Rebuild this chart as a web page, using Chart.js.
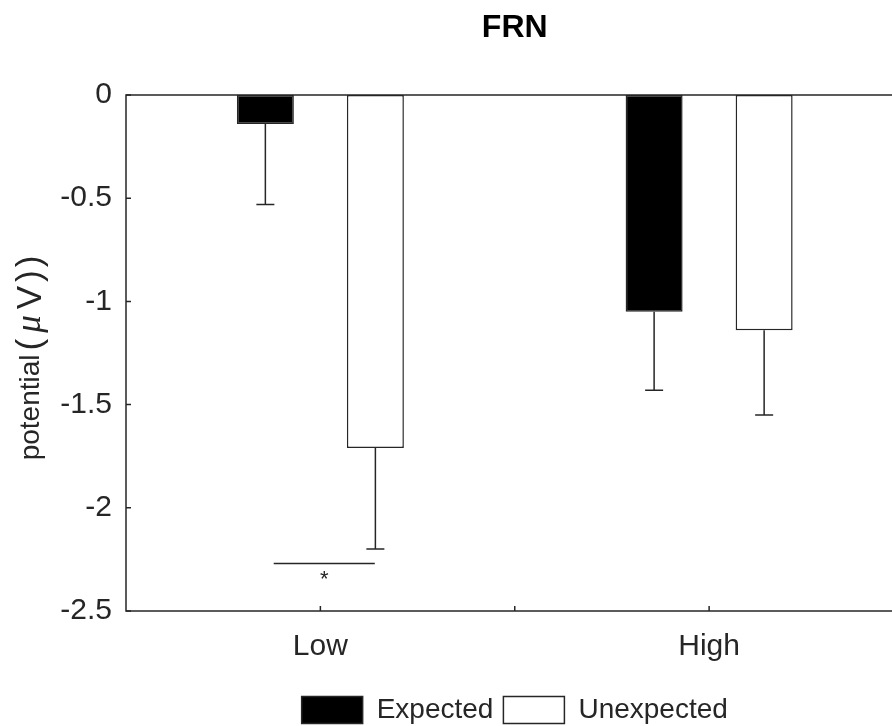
<!DOCTYPE html>
<html>
<head>
<meta charset="utf-8">
<script src="https://cdn.jsdelivr.net/npm/chart.js@4"></script>
<style>
  html, body { margin: 0; padding: 0; background: #fff; overflow: hidden; }
  #wrap { position: relative; width: 910px; height: 734px; }
</style>
</head>
<body>
<div id="wrap"><canvas id="c"></canvas></div>
<script>
// values
const categories = ["Low", "High"];
const expected = [-0.14, -1.05];
const expectedErr = [0.39, 0.38];
const unexpected = [-1.71, -1.14];
const unexpectedErr = [0.49, 0.41];
const yTicks = [0, -0.5, -1, -1.5, -2, -2.5];
const xTickIdx = [0, 0.5, 1];
// significance bracket under the Low pair (offsets in category units)
const sig = { category: 0, from: -0.12, to: 0.14, value: -2.27, label: "*" };

const ink = "#262626";
const font = "'Liberation Sans', Arial, Helvetica, sans-serif";

// y label has TeX-style mu, so it's drawn in pieces
const yLabelParts = [
  { t: "potential", f: "28px " + font, gap: 0 },
  { t: "(", f: "35px " + font, gap: 4 },
  { t: "μ", f: "italic 35px 'Liberation Serif', serif", gap: 6 },
  { t: "V", f: "35px " + font, gap: 6 },
  { t: ")", f: "35px " + font, gap: 4 },
  { t: ")", f: "35px " + font, gap: 3 }
];

const frame = {
  id: "frame",
  afterDatasetsDraw(chart) {
    const { ctx, chartArea: a, scales: { x, y } } = chart;
    ctx.save();
    ctx.strokeStyle = ink;
    ctx.lineWidth = 1.5;

    // error bars, pointing away from zero
    [expectedErr, unexpectedErr].forEach((errs, i) => {
      const vals = chart.data.datasets[i].data;
      chart.getDatasetMeta(i).data.forEach((bar, j) => {
        const y0 = y.getPixelForValue(vals[j]);
        const y1 = y.getPixelForValue(vals[j] - errs[j]);
        ctx.beginPath();
        ctx.moveTo(bar.x, y0);
        ctx.lineTo(bar.x, y1);
        ctx.moveTo(bar.x - 9, y1);
        ctx.lineTo(bar.x + 9, y1);
        ctx.stroke();
      });
    });

    // axes box
    ctx.strokeRect(a.left, a.top, a.right - a.left, a.bottom - a.top);

    // inward ticks
    ctx.beginPath();
    yTicks.forEach(v => {
      const py = y.getPixelForValue(v);
      ctx.moveTo(a.left, py);
      ctx.lineTo(a.left + 5, py);
    });
    xTickIdx.forEach(v => {
      const px = x.getPixelForValue(v);
      ctx.moveTo(px, a.bottom);
      ctx.lineTo(px, a.bottom - 5);
    });
    ctx.stroke();

    // significance line + star
    const unit = x.getPixelForValue(1) - x.getPixelForValue(0);
    const cx = x.getPixelForValue(sig.category);
    const sx0 = cx + sig.from * unit, sx1 = cx + sig.to * unit;
    const sy = y.getPixelForValue(sig.value);
    ctx.beginPath();
    ctx.moveTo(sx0, sy);
    ctx.lineTo(sx1, sy);
    ctx.stroke();
    ctx.fillStyle = ink;
    ctx.font = "22px " + font;
    ctx.textAlign = "center";
    ctx.textBaseline = "middle";
    ctx.fillText(sig.label, (sx0 + sx1) / 2, sy + 16);

    // y axis label
    let total = 0;
    yLabelParts.forEach(p => { ctx.font = p.f; total += p.gap + ctx.measureText(p.t).width; });
    ctx.translate(31, (a.top + a.bottom) / 2 + 5);
    ctx.rotate(-Math.PI / 2);
    ctx.textAlign = "left";
    ctx.textBaseline = "middle";
    let tx = -total / 2;
    yLabelParts.forEach(p => {
      ctx.font = p.f;
      tx += p.gap;
      ctx.fillText(p.t, tx, 0);
      tx += ctx.measureText(p.t).width;
    });
    ctx.restore();
  }
};

new Chart(document.getElementById("c"), {
  type: "bar",
  data: {
    labels: categories,
    datasets: [
      {
        label: "Expected",
        data: expected,
        backgroundColor: "#000",
        borderColor: ink,
        borderWidth: 1.5,
        borderSkipped: false
      },
      {
        label: "Unexpected",
        data: unexpected,
        backgroundColor: "#fff",
        borderColor: ink,
        borderWidth: 1.5,
        borderSkipped: false
      }
    ]
  },
  options: {
    responsive: true,
    maintainAspectRatio: false,
    animation: false,
    events: [],
    categoryPercentage: 0.566,
    barPercentage: 0.518,
    layout: { padding: { left: 0, right: 6.5, top: 0, bottom: 0 } },
    scales: {
      x: {
        type: "category",
        offset: true,
        grid: { display: false, drawTicks: false },
        border: { display: false },
        ticks: { color: ink, font: { family: font, size: 30 }, padding: 18 },
        afterFit: s => { s.height = 75; }
      },
      y: {
        min: -2.5,
        max: 0,
        grid: { display: false, drawTicks: false },
        border: { display: false },
        afterBuildTicks: s => { s.ticks = yTicks.map(v => ({ value: v })); },
        ticks: {
          color: ink,
          font: { family: font, size: 30 },
          padding: 14,
          callback: v => String(v)
        },
        afterFit: s => { s.width = 126; }
      }
    },
    plugins: {
      title: {
        display: true,
        text: "FRN",
        fullSize: false,
        color: "#000",
        font: { family: font, size: 32, weight: "bold" },
        padding: { top: 9, bottom: 47.6 }
      },
      legend: {
        position: "bottom",
        fullSize: false,
        labels: {
          color: ink,
          font: { family: font, size: 28 },
          boxWidth: 61,
          boxHeight: 27,
          padding: 10
        }
      },
      tooltip: { enabled: false }
    }
  },
  plugins: [frame]
});
</script>
</body>
</html>
